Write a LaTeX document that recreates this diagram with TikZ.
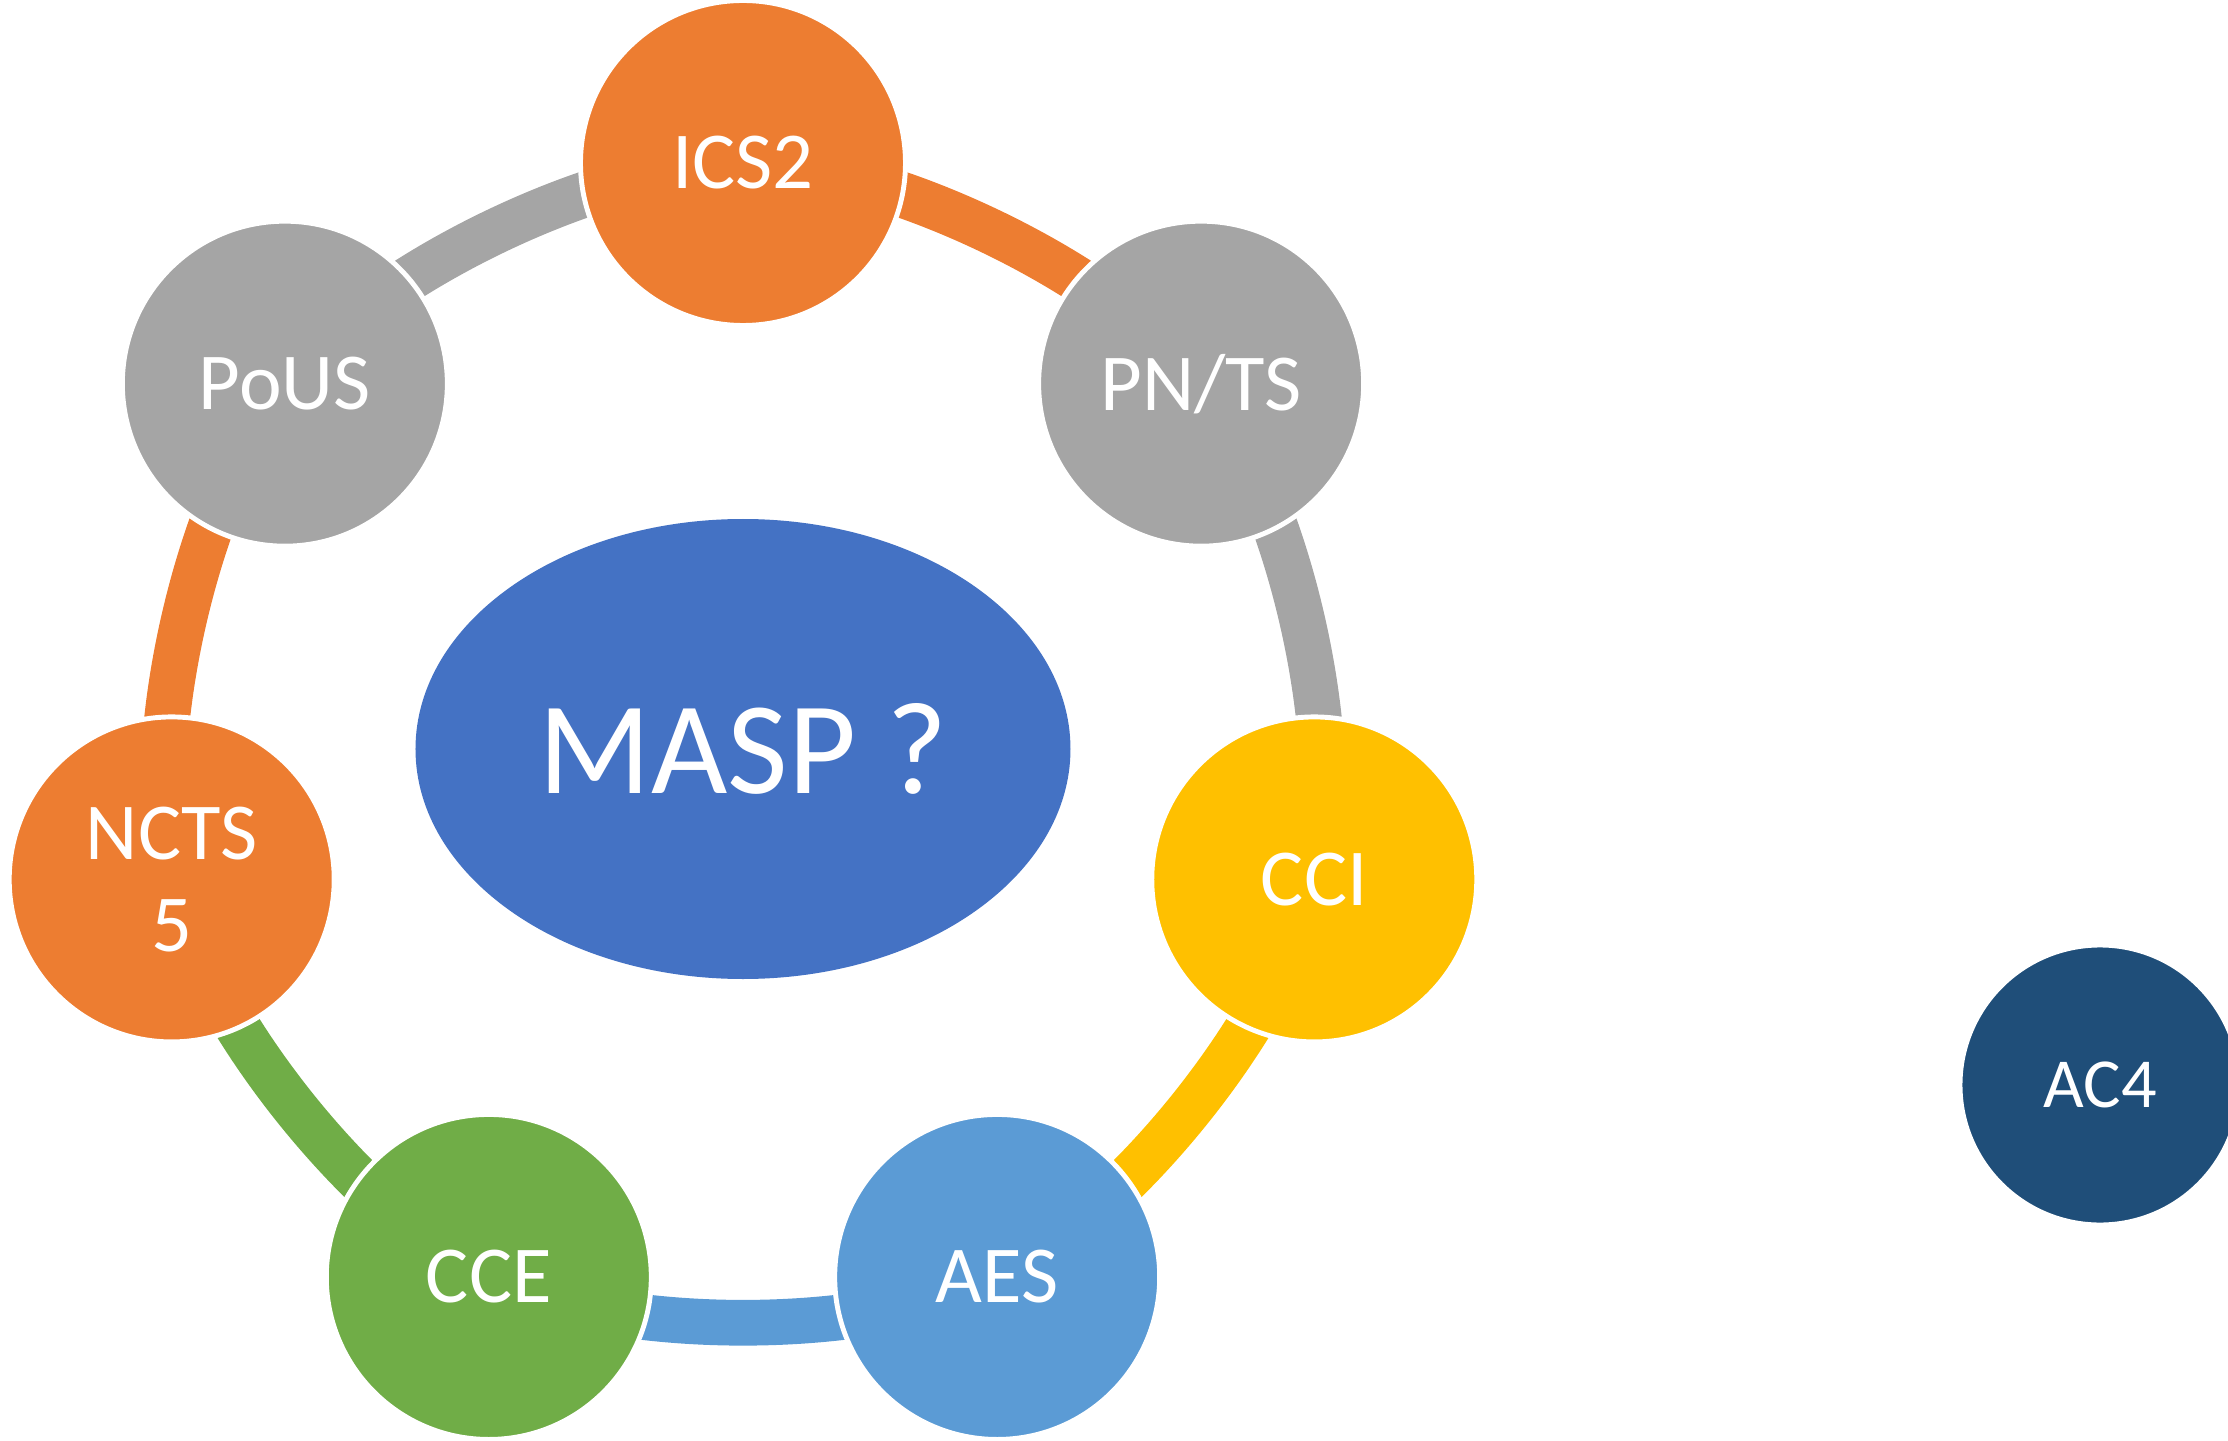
\documentclass[tikz,border=0pt]{standalone}
\usepackage{fontspec}
\setmainfont{Carlito}
\usepackage{tikz}
\usetikzlibrary{shapes.geometric,backgrounds}
\definecolor{stOrange}{HTML}{ED7D31}
\definecolor{stGray}{HTML}{A5A5A5}
\definecolor{stYellow}{HTML}{FFC000}
\definecolor{stBlue}{HTML}{5B9BD5}
\definecolor{stGreen}{HTML}{70AD47}
\definecolor{hubBlue}{HTML}{4472C4}
\definecolor{darkBlue}{HTML}{1F4E79}
\tikzset{%
	stage/.style = {circle, draw=white, line width=1.4pt, minimum size=3.25cm, inner sep=0pt, text=white, align=center, font=\fontsize{23}{26}\selectfont},
	hub/.style   = {ellipse, fill=hubBlue, minimum width=6.55cm, minimum height=4.6cm, inner sep=0pt, text=white, font=\fontsize{37.5}{40}\selectfont},
	link/.style  = {line width=13pt, bend left=25.71, looseness=0.71},
}
\begin{document}
\begin{tikzpicture}
	\useasboundingbox (-7.43,-6.91) rectangle (14.85,7.49);
	\node[hub] (masp) at (0,0) {MASP ?};  % centre
	\node[stage,fill=stOrange] (ics) at (90:5.86) {ICS2};
	\node[stage,fill=stGray] (pnts) at (38.57:5.86) {PN/TS};
	\node[stage,fill=stYellow] (cci) at (-12.86:5.86) {CCI};
	\node[stage,fill=stBlue] (aes) at (-64.29:5.86) {AES};
	\node[stage,fill=stGreen] (cce) at (-115.71:5.86) {CCE};
	\node[stage,fill=stOrange] (ncts) at (-167.14:5.86) {NCTS\\5};
	\node[stage,fill=stGray] (pous) at (141.43:5.86) {PoUS};
	\node[stage,fill=darkBlue,minimum size=2.8cm,font=\fontsize{20}{24}\selectfont] (ac) at (13.57,-3.36) {AC4};  % outside the cycle
	\begin{scope}[on background layer]
		\draw[link,stOrange] (ics.center) to (pnts.center);
		\draw[link,stGray] (pnts.center) to (cci.center);
		\draw[link,stYellow] (cci.center) to (aes.center);
		\draw[link,stBlue] (aes.center) to (cce.center);
		\draw[link,stGreen] (cce.center) to (ncts.center);
		\draw[link,stOrange] (ncts.center) to (pous.center);
		\draw[link,stGray] (pous.center) to (ics.center);
	\end{scope}
\end{tikzpicture}
\end{document}
